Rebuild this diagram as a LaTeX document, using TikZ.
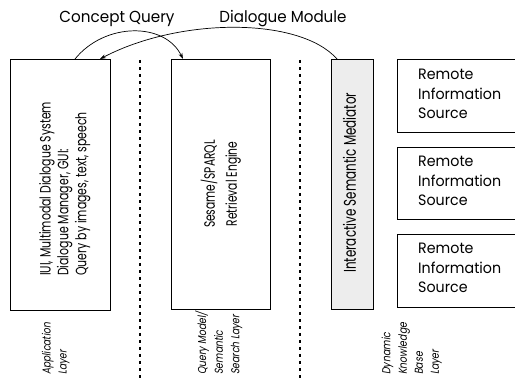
\documentclass[tikz,border=0pt]{standalone}
\usepackage{graphicx}
\usepackage{fontspec}
\setmainfont{Poppins}
\newfontfamily\slantfont{Poppins}[FakeSlant=0.2]
\newcommand{\fitw}[3]{\resizebox{#1}{\height}{\fontsize{#2}{#2}\selectfont\renewcommand{\arraystretch}{1}\begin{tabular}{@{}l@{}}#3\end{tabular}}}
\newcommand{\fitc}[3]{\resizebox{#1}{\height}{\fontsize{#2}{#2}\selectfont\renewcommand{\arraystretch}{1}\begin{tabular}{@{}c@{}}#3\end{tabular}}}
\usetikzlibrary{arrows.meta}
\begin{document}
\begin{tikzpicture}[x=1pt,y=-1pt,
  box/.style={draw, line width=0.7pt, inner sep=0pt},
  lbl/.style={inner sep=0pt},
  vtext/.style={rotate=90, inner sep=0pt},
  layer/.style={rotate=90, inner sep=0pt, anchor=west, font=\slantfont},
  remote/.style={inner sep=0pt, anchor=west},
  sep/.style={line width=2pt, dash pattern=on 3.5pt off 3.5pt},
  arr/.style={line width=0.7pt, -{Stealth[length=6pt,width=4pt]}}]
\useasboundingbox (0,0) rectangle (515,379);
% boxes
\node[box, minimum width=100pt, minimum height=251pt] (app) at (60,184.5) {};
\node[box, minimum width=99pt, minimum height=250pt] (ses) at (220.5,184) {};
\node[box, fill=black!7, minimum width=42pt, minimum height=250pt] (med) at (352,184) {};
\begin{scope}
\clip (0,0) rectangle (515,379);
\node[box, minimum width=133pt, minimum height=73pt] (r1) at (463.5,95.5) {};
\node[box, minimum width=133pt, minimum height=72pt] (r2) at (463.5,183) {};
\node[box, minimum width=133pt, minimum height=73pt] (r3) at (463.5,270.5) {};
\end{scope}
% box texts
\node[vtext, anchor=west] (appt) at (65,276) {\fitw{174pt}{15pt}{IUI, Multimodal Dialogue System\\[2pt]Dialogue Manager, GUI:\\[2pt]Query by images, text, speech}};
\node[vtext] (sest) at (221,184) {\fitc{88pt}{15pt}{Sesame/SPARQL\\[6pt]Retrieval Engine}};
\node[vtext, anchor=west] (medt) at (352,273) {\fitw{180pt}{17pt}{Interactive Semantic Mediator}};
\node[remote] (r1t) at (418,96) {\fitw{83pt}{15pt}{Remote\\[3.5pt]Information\\[3.5pt]Source}};
\node[remote] (r2t) at (418,183) {\fitw{83pt}{15pt}{Remote\\[3.5pt]Information\\[3.5pt]Source}};
\node[remote] (r3t) at (418,270) {\fitw{83pt}{15pt}{Remote\\[3.5pt]Information\\[3.5pt]Source}};
% separators
\coordinate (s1a) at (140,60); \coordinate (s1b) at (140,379);
\coordinate (s2a) at (300,60); \coordinate (s2b) at (300,379);
\draw[sep] (s1a) -- (s1b);
\draw[sep] (s2a) -- (s2b);
% layer labels
\node[layer] (l1) at (56,375) {\fitw{52pt}{11.5pt}{Application\\[4.5pt]Layer}};
\node[layer] (l2) at (219,375) {\fitw{63pt}{11.5pt}{Query Model/\\[4.5pt]Semantic\\[4.5pt]Search Layer}};
\node[layer] (l3) at (412,375) {\fitw{52pt}{11.5pt}{Dynamic\\[4.5pt]Knowledge\\[4.5pt]Base\\[4.5pt]Layer}};
% top labels
\node[lbl] (cq) at (117,19) {\fitw{115pt}{16pt}{Concept Query}};
\node[lbl] (dm) at (283,19) {\fitw{127pt}{16pt}{Dialogue Module}};
% arrows
\coordinate (a1) at (75,59);
\coordinate (b1) at (183,59);
\coordinate (m1) at (337,59);
\coordinate (a2) at (100,59);
\draw[arr] (a1) .. controls (105,22) and (165,22) .. (b1);
\draw[arr] (m1) .. controls (300,17) and (180,17) .. (a2);
\end{tikzpicture}
\end{document}
